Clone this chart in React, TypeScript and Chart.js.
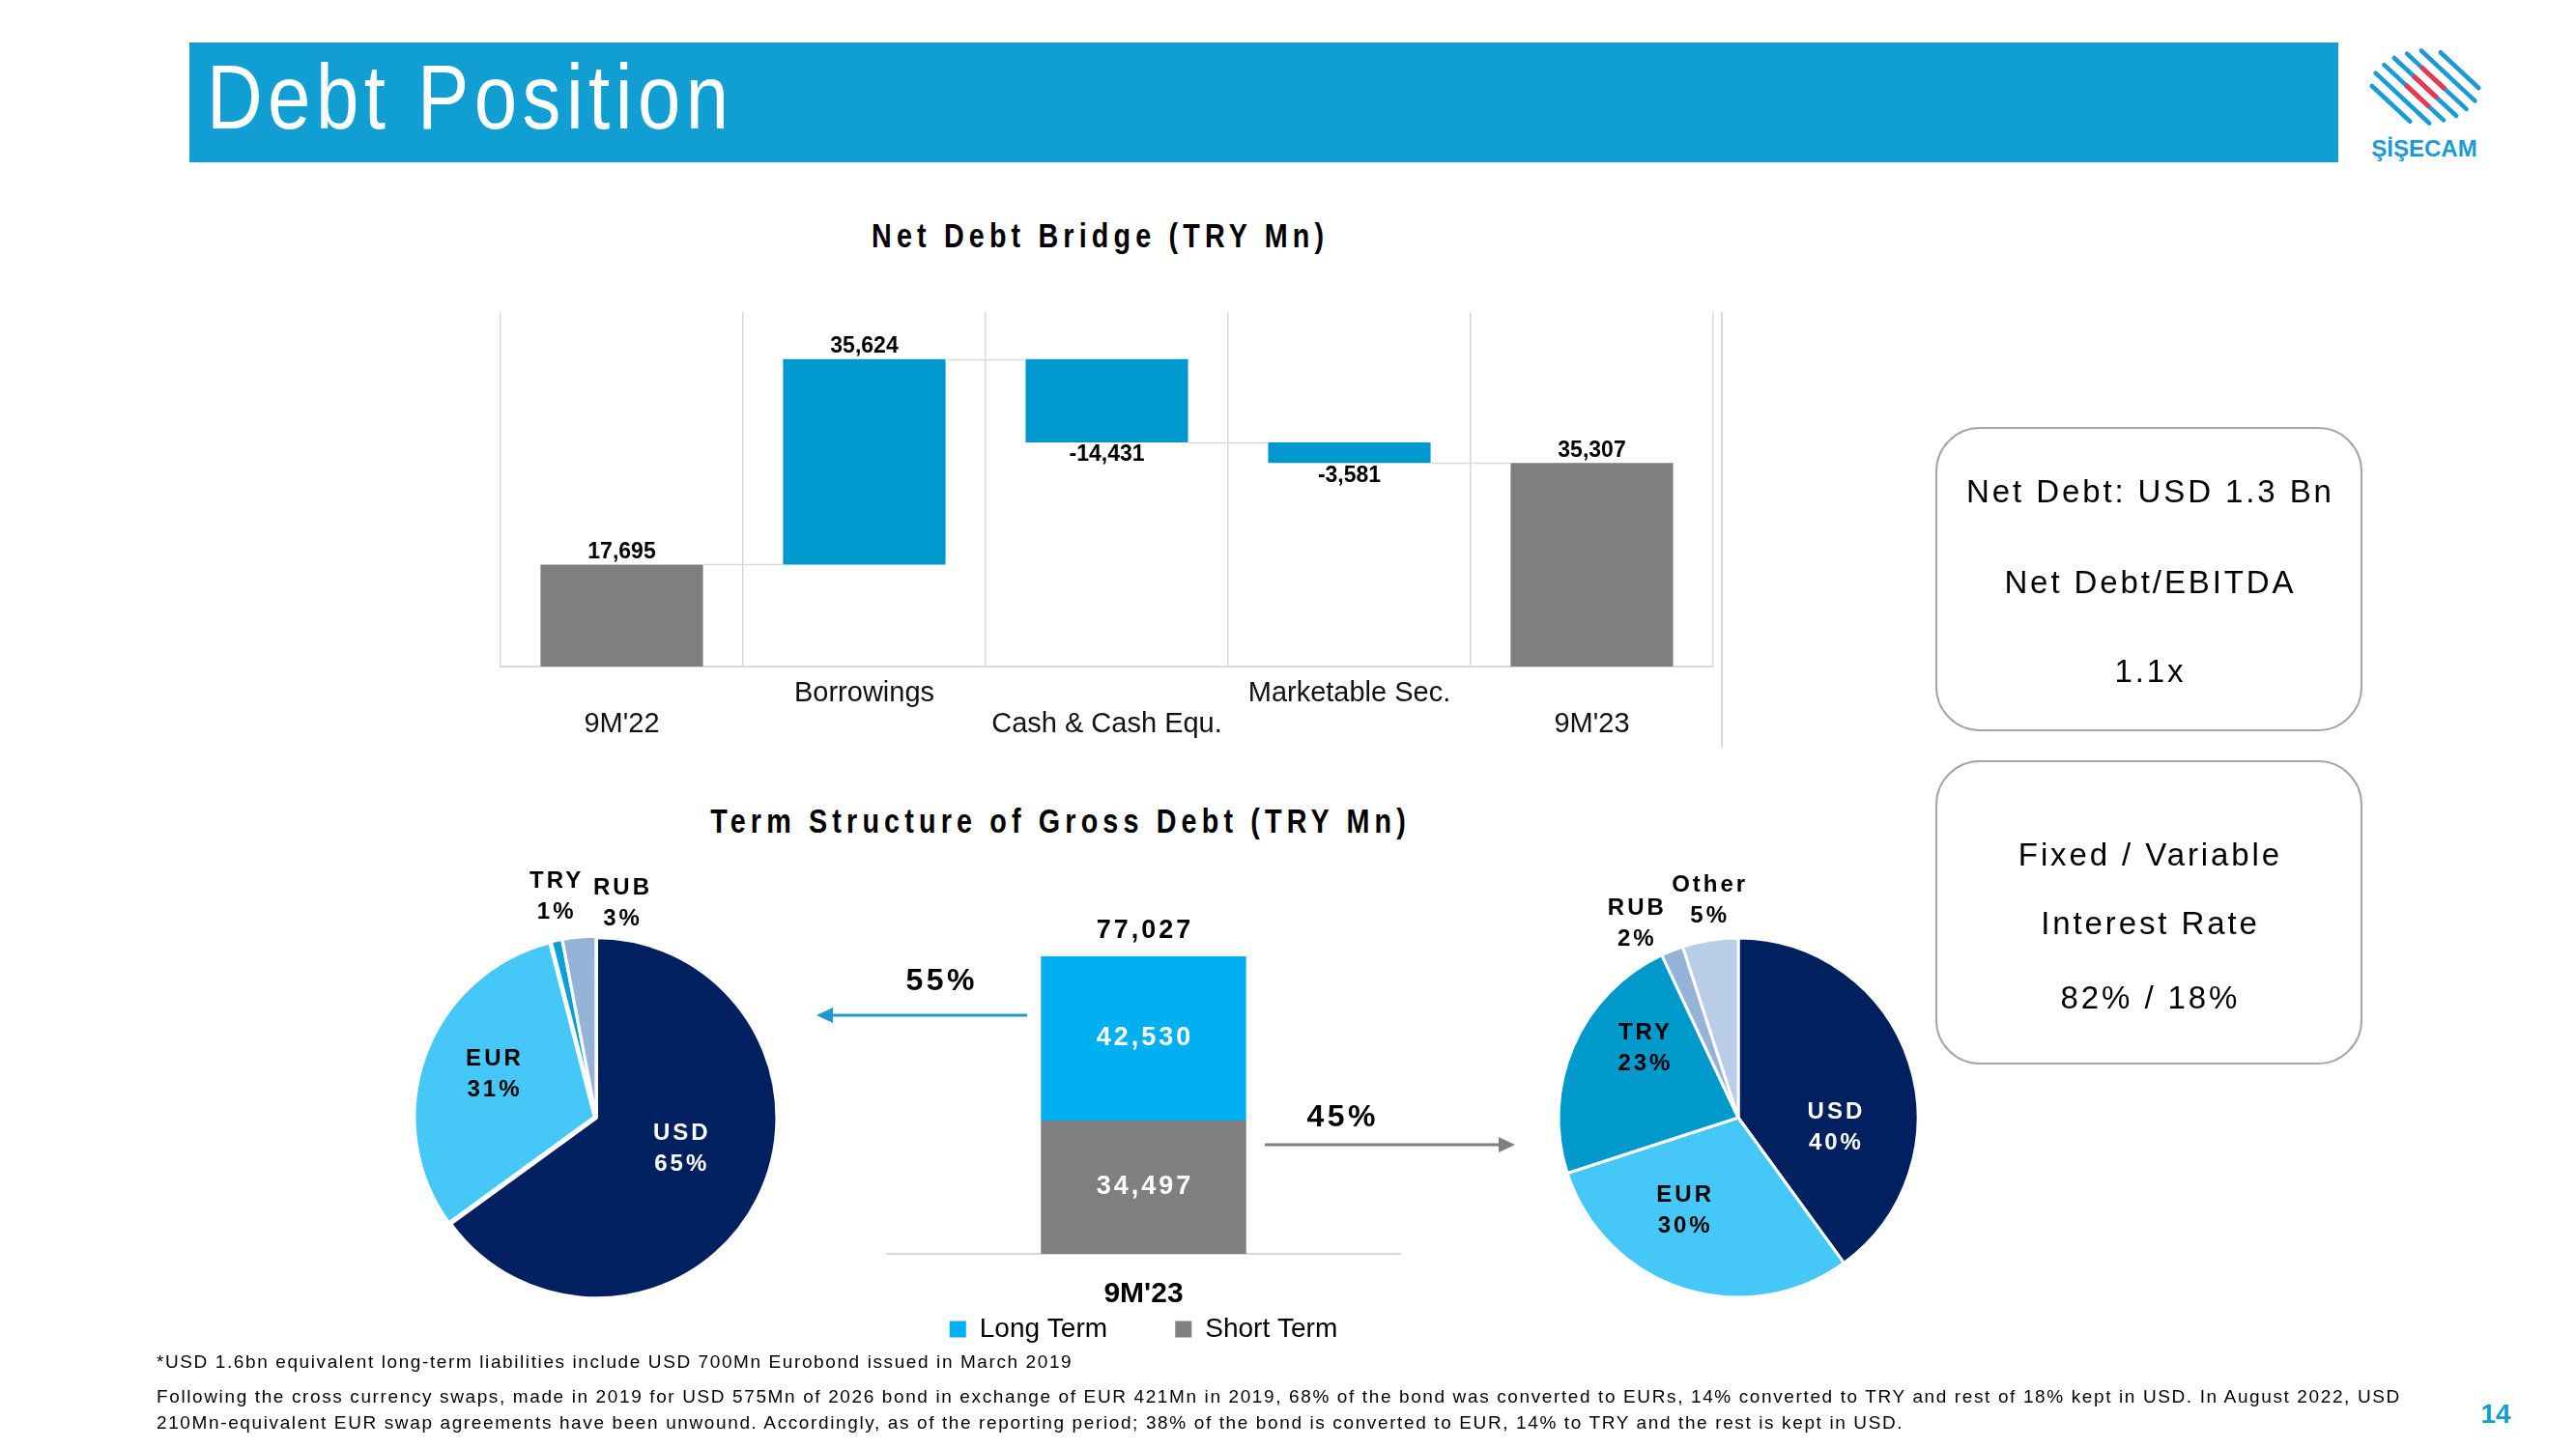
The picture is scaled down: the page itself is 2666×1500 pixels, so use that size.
import React, { useEffect, useRef } from 'react';
import { Chart, registerables } from 'chart.js';

Chart.register(...registerables);

const FONT = '"Liberation Sans", Arial, Helvetica, sans-serif';

// ---------------- data ----------------
const bridgeCategories = ["9M'22", 'Borrowings', 'Cash & Cash Equ.', 'Marketable Sec.', "9M'23"];
const bridgeValues = [17695, 35624, -14431, -3581, 35307];
const bridgeIsTotal = [true, false, false, false, true];

const termPeriods = ["9M'23"];
const longTermValues = [42530];
const shortTermValues = [34497];
const grossTotals = [77027];
const longTermShare = '55%';
const shortTermShare = '45%';

const longCurrencies = ['USD', 'EUR', 'TRY', 'RUB'];
const longShares = [65, 31, 1, 3];
const shortCurrencies = ['USD', 'EUR', 'TRY', 'RUB', 'Other'];
const shortShares = [40, 30, 23, 2, 5];

const netDebtLines = ['Net Debt: USD 1.3 Bn', 'Net Debt/EBITDA', '1.1x'];
const rateLines = ['Fixed / Variable', 'Interest Rate', '82% / 18%'];

const footnotes = [
  '*USD 1.6bn equivalent long-term liabilities include USD 700Mn Eurobond issued in March 2019',
  'Following the cross currency swaps, made in 2019 for USD 575Mn of 2026 bond in exchange of EUR 421Mn in 2019, 68% of the bond was converted to EURs, 14% converted to TRY and rest of 18% kept in USD. In August 2022, USD',
  '210Mn-equivalent EUR swap agreements have been unwound. Accordingly, as of the reporting period; 38% of the bond is converted to EUR, 14% to TRY and the rest is kept in USD.',
];

const fmt = (v: number) => v.toLocaleString('en-US');

// ---------------- chart configs ----------------
function makeBridge(): any {
  let acc = 0;
  const ends: number[] = [];
  const bars = bridgeValues.map((v, i) => {
    if (bridgeIsTotal[i]) {
      acc = v;
      ends.push(acc);
      return [0, v];
    }
    const s = acc;
    acc += v;
    ends.push(acc);
    return [s, acc];
  });
  const decor = {
    id: 'bridgeDecor',
    afterDatasetsDraw(chart: any) {
      const ctx = chart.ctx;
      const meta = chart.getDatasetMeta(0);
      const ys = chart.scales.y;
      ctx.save();
      ctx.strokeStyle = '#D9D9D9';
      ctx.lineWidth = 1.5;
      for (let i = 0; i < meta.data.length - 1; i++) {
        const a: any = meta.data[i];
        const b: any = meta.data[i + 1];
        const py = Math.round(ys.getPixelForValue(ends[i])) + 0.5;
        ctx.beginPath();
        ctx.moveTo(a.x + a.width / 2, py);
        ctx.lineTo(b.x - b.width / 2, py);
        ctx.stroke();
      }
      ctx.fillStyle = '#000';
      ctx.font = `bold 23px ${FONT}`;
      ctx.textAlign = 'center';
      ctx.textBaseline = 'middle';
      meta.data.forEach((el: any, i: number) => {
        const top = Math.min(el.y, el.base);
        const bottom = Math.max(el.y, el.base);
        const v = bridgeValues[i];
        ctx.fillText(fmt(v), el.x, v >= 0 ? top - 13 : bottom + 13);
      });
      ctx.restore();
    },
  };
  return {
    type: 'bar',
    data: {
      labels: bridgeCategories,
      datasets: [
        {
          data: bars,
          backgroundColor: bridgeIsTotal.map((t) => (t ? '#7F7F7F' : '#0099CF')),
          borderWidth: 0,
          barPercentage: 0.67,
          categoryPercentage: 1,
        },
      ],
    },
    options: {
      responsive: false,
      animation: false,
      devicePixelRatio: 1,
      layout: { padding: { left: 18, right: 27, top: 23, bottom: 0 } },
      plugins: { legend: { display: false }, tooltip: { enabled: false } },
      scales: {
        x: {
          grid: { offset: true, color: '#D9D9D9', lineWidth: 1.5, drawTicks: false },
          border: { color: '#D9D9D9', width: 2 },
          ticks: {
            padding: 12,
            autoSkip: false,
            maxRotation: 0,
            color: '#111',
            font: { family: FONT, size: 29, lineHeight: 1.1 },
            callback: (_v: any, i: number) =>
              i % 2 === 1 ? [bridgeCategories[i], ''] : ['', bridgeCategories[i]],
          },
          afterFit: (s: any) => {
            s.height = 90;
          },
        },
        y: { display: false, min: 0, max: 61500 },
      },
    },
    plugins: [decor],
  };
}

type Placement = { r: number; da: number };

function makePie(
  names: string[],
  values: number[],
  colors: string[],
  textColors: string[],
  placements: Placement[],
  offsets: number[],
): any {
  const labelPlugin = {
    id: 'pieLabels',
    afterDatasetsDraw(chart: any) {
      const ctx = chart.ctx;
      const meta = chart.getDatasetMeta(0);
      ctx.save();
      ctx.font = `bold 24px ${FONT}`;
      (ctx as any).letterSpacing = '3px';
      ctx.textAlign = 'center';
      ctx.textBaseline = 'middle';
      meta.data.forEach((arc: any, i: number) => {
        const p = placements[i];
        const mid = (arc.startAngle + arc.endAngle) / 2 + (p.da * Math.PI) / 180;
        const r = arc.outerRadius * p.r;
        const cx = arc.x + Math.cos(mid) * r + 1.5;
        const cy = arc.y + Math.sin(mid) * r;
        ctx.fillStyle = textColors[i];
        ctx.fillText(names[i], cx, cy - 16);
        ctx.fillText(values[i] + '%', cx, cy + 16);
      });
      ctx.restore();
    },
  };
  return {
    type: 'pie',
    data: {
      labels: names,
      datasets: [
        {
          data: values,
          backgroundColor: colors,
          borderColor: '#FFFFFF',
          borderWidth: 3,
          offset: offsets,
        },
      ],
    },
    options: {
      responsive: false,
      animation: false,
      devicePixelRatio: 1,
      radius: 186,
      layout: { padding: 0 },
      plugins: { legend: { display: false }, tooltip: { enabled: false } },
    },
    plugins: [labelPlugin],
  };
}

function makeTerm(): any {
  const decor = {
    id: 'termDecor',
    afterDatasetsDraw(chart: any) {
      const ctx = chart.ctx;
      ctx.save();
      (ctx as any).letterSpacing = '3px';
      ctx.font = `bold 27px ${FONT}`;
      ctx.textAlign = 'center';
      ctx.textBaseline = 'middle';
      const segs = [shortTermValues, longTermValues];
      segs.forEach((vals, d) => {
        chart.getDatasetMeta(d).data.forEach((el: any, i: number) => {
          ctx.fillStyle = '#FFFFFF';
          ctx.fillText(fmt(vals[i]), el.x + 1.5, (el.y + el.base) / 2);
        });
      });
      chart.getDatasetMeta(1).data.forEach((el: any, i: number) => {
        ctx.fillStyle = '#000';
        ctx.fillText(fmt(grossTotals[i]), el.x + 1.5, el.y - 26);
      });
      ctx.restore();
    },
  };
  return {
    type: 'bar',
    data: {
      labels: termPeriods,
      datasets: [
        { label: 'Short Term', data: shortTermValues, backgroundColor: '#7F7F7F', borderWidth: 0, barPercentage: 0.5, categoryPercentage: 0.8 },
        { label: 'Long Term', data: longTermValues, backgroundColor: '#00B0F0', borderWidth: 0, barPercentage: 0.5, categoryPercentage: 0.8 },
      ],
    },
    options: {
      responsive: false,
      animation: false,
      devicePixelRatio: 1,
      layout: { padding: { left: 18, right: 18, top: 38, bottom: 0 } },
      plugins: {
        tooltip: { enabled: false },
        legend: {
          position: 'bottom',
          reverse: true,
          labels: {
            boxWidth: 17,
            boxHeight: 17,
            padding: 8,
            color: '#000',
            font: { family: FONT, size: 28 },
            generateLabels: (chart: any) => {
              const items = (Chart as any).defaults.plugins.legend.labels.generateLabels(chart);
              return items.map((it: any) => ({
                ...it,
                text: it.text === 'Long Term' ? it.text + '        ' : it.text,
                lineWidth: 0,
              }));
            },
          },
        },
      },
      scales: {
        x: {
          stacked: true,
          grid: { display: false, drawTicks: false },
          border: { color: '#D9D9D9', width: 2 },
          ticks: {
            padding: 24,
            color: '#000',
            font: { family: FONT, size: 30, weight: 'bold', lineHeight: 1.2 },
          },
          afterFit: (s: any) => {
            s.height = 56;
          },
        },
        y: { stacked: true, display: false, min: 0, max: 90000 },
      },
    },
    plugins: [decor],
  };
}

// ---------------- components ----------------
function ChartBox({ left, top, width, height, make }: { left: number; top: number; width: number; height: number; make: () => any }) {
  const ref = useRef<HTMLCanvasElement | null>(null);
  useEffect(() => {
    if (!ref.current) return;
    const chart = new Chart(ref.current, make());
    return () => chart.destroy();
  }, []);
  return (
    <div style={{ position: 'absolute', left, top, width, height }}>
      <canvas ref={ref} width={width} height={height} style={{ width, height, display: 'block' }} />
    </div>
  );
}

function Txt(props: {
  x: number;
  y: number;
  size: number;
  children: React.ReactNode;
  weight?: number;
  ls?: number;
  color?: string;
  align?: 'left' | 'center';
  sx?: number;
}) {
  const { x, y, size, children, weight = 400, ls = 0, color = '#000', align = 'left', sx = 1 } = props;
  const top = y - 0.8465 * size;
  const common: React.CSSProperties = {
    position: 'absolute',
    top,
    fontFamily: FONT,
    fontSize: size,
    fontWeight: weight,
    lineHeight: `${size}px`,
    letterSpacing: ls,
    color,
    whiteSpace: 'pre',
    transform: sx !== 1 ? `scaleX(${sx})` : undefined,
  };
  if (align === 'center') {
    return (
      <div style={{ ...common, left: x - 1500, width: 3000, textAlign: 'center', paddingLeft: ls, boxSizing: 'border-box', transformOrigin: '50% 50%' }}>
        {children}
      </div>
    );
  }
  return <div style={{ ...common, left: x, transformOrigin: '0 50%' }}>{children}</div>;
}

function Logo() {
  const cx = 2510;
  const cy = 90;
  const d = [0.731, 0.682];
  const p = [0.682, -0.731];
  const half = [27, 38, 42, 44, 42, 38, 27];
  const lines = half.map((h, i) => {
    const o = (i - 3) * 12.3;
    const s = (i - 3) * 4.7;
    const mx = cx + p[0] * o + d[0] * s;
    const my = cy + p[1] * o + d[1] * s;
    return { x1: mx - d[0] * h, y1: my - d[1] * h, x2: mx + d[0] * h, y2: my + d[1] * h, mx, my, i };
  });
  return (
    <svg width={2666} height={1500} style={{ position: 'absolute', left: 0, top: 0, pointerEvents: 'none' }}>
      {lines.map((l) => (
        <line key={'b' + l.i} x1={l.x1} y1={l.y1} x2={l.x2} y2={l.y2} stroke="#1B9AD6" strokeWidth={4.6} strokeLinecap="round" />
      ))}
      {lines
        .filter((l) => l.i >= 2 && l.i <= 4)
        .map((l) => (
          <line
            key={'r' + l.i}
            x1={l.mx - d[0] * 17 - d[0] * (l.i - 3) * 5}
            y1={l.my - d[1] * 17 - d[1] * (l.i - 3) * 5}
            x2={l.mx + d[0] * 17 - d[0] * (l.i - 3) * 5}
            y2={l.my + d[1] * 17 - d[1] * (l.i - 3) * 5}
            stroke="#E63B4F"
            strokeWidth={5}
          />
        ))}
      {/* arrows */}
      <line x1={1063} y1={1051} x2={858} y2={1051} stroke="#1F97CF" strokeWidth={3} />
      <polygon points="845,1051 862,1043 862,1059" fill="#1F97CF" />
      <line x1={1309} y1={1185} x2={1554} y2={1185} stroke="#7F7F7F" strokeWidth={3} />
      <polygon points="1568,1185 1551,1177 1551,1193" fill="#7F7F7F" />
    </svg>
  );
}

function RoundBox({ top, lines, baselines }: { top: number; lines: string[]; baselines: number[] }) {
  return (
    <>
      <div
        style={{
          position: 'absolute',
          left: 2003,
          top,
          width: 442,
          height: 315,
          border: '2.5px solid #A6A6A6',
          borderRadius: 46,
          boxSizing: 'border-box',
          background: '#fff',
        }}
      />
      {lines.map((t, i) => (
        <Txt key={i} x={2224} y={baselines[i]} size={33} ls={2.9} align="center">
          {t}
        </Txt>
      ))}
    </>
  );
}

export default function App() {
  return (
    <div
      style={{
        position: 'fixed',
        left: 0,
        top: 0,
        width: 2666,
        height: 1500,
        background: '#FFFFFF',
        overflow: 'hidden',
        fontFamily: FONT,
      }}
    >
      {/* header */}
      <div style={{ position: 'absolute', left: 196, top: 44, width: 2224, height: 124, background: '#119FD3' }} />
      <Txt x={214} y={133} size={95} ls={6.5} color="#FFFFFF" sx={0.84}>
        Debt Position
      </Txt>
      <Txt x={2509} y={162} size={24} weight={700} color="#1B9AD6" align="center">
        ŞİŞECAM
      </Txt>

      {/* section titles */}
      <Txt x={1136} y={256} size={35} weight={700} ls={6.3} sx={0.82} align="center">
        Net Debt Bridge (TRY Mn)
      </Txt>
      <Txt x={1095} y={862} size={35} weight={700} ls={6.3} sx={0.82} align="center">
        Term Structure of Gross Debt (TRY Mn)
      </Txt>

      {/* waterfall */}
      <ChartBox left={500} top={300} width={1300} height={480} make={makeBridge} />
      <div style={{ position: 'absolute', left: 1781, top: 323, width: 1.5, height: 451, background: '#D9D9D9' }} />

      {/* term structure */}
      <ChartBox left={900} top={900} width={567} height={500} make={makeTerm} />
      <ChartBox
        left={397}
        top={897}
        width={440}
        height={520}
        make={() =>
          makePie(
            longCurrencies,
            longShares,
            ['#002060', '#45C8F8', '#0BA0D8', '#95B3D7'],
            ['#FFFFFF', '#000000', '#000000', '#000000'],
            [
              { r: 0.5, da: -6.8 },
              { r: 0.62, da: 2.7 },
              { r: 1.25, da: 2.1 },
              { r: 1.2, da: 12.1 },
            ],
            [2, 8, 4, 4],
          )
        }
      />
      <ChartBox
        left={1579}
        top={897}
        width={440}
        height={520}
        make={() =>
          makePie(
            shortCurrencies,
            shortShares,
            ['#002060', '#45C8F8', '#0099CC', '#95B3D7', '#B9CDE9'],
            ['#FFFFFF', '#000000', '#000000', '#000000', '#000000'],
            [
              { r: 0.54, da: 23.8 },
              { r: 0.6, da: 12.3 },
              { r: 0.65, da: 12.8 },
              { r: 1.22, da: -6.3 },
              { r: 1.22, da: 1.2 },
            ],
            [0, 0, 0, 0, 0],
          )
        }
      />
      <Txt x={973} y={1025} size={32} weight={700} ls={3.5} align="center">
        {longTermShare}
      </Txt>
      <Txt x={1388} y={1166} size={32} weight={700} ls={3.5} align="center">
        {shortTermShare}
      </Txt>
      <Logo />

      {/* info boxes */}
      <RoundBox top={442} lines={netDebtLines} baselines={[520, 614, 706]} />
      <RoundBox top={787} lines={rateLines} baselines={[896, 967, 1044]} />

      {/* footnotes */}
      <Txt x={162} y={1416} size={19} ls={1.6}>
        {footnotes[0]}
      </Txt>
      <Txt x={162} y={1452} size={19} ls={1.62}>
        {footnotes[1]}
      </Txt>
      <Txt x={162} y={1479} size={19} ls={1.62}>
        {footnotes[2]}
      </Txt>
      <Txt x={2583} y={1474} size={28} weight={700} color="#119FD3" align="center">
        14
      </Txt>
    </div>
  );
}
